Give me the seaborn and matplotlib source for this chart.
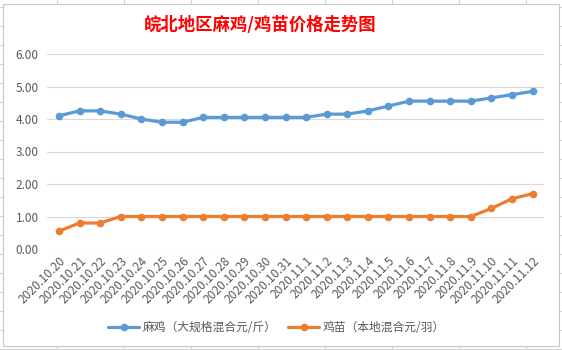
import numpy as np
import pandas as pd
import matplotlib
matplotlib.use("Agg")
import matplotlib.pyplot as plt
import seaborn as sns
from matplotlib.patches import Rectangle
from matplotlib.lines import Line2D

dates = ["2020.10.20", "2020.10.21", "2020.10.22", "2020.10.23", "2020.10.24", "2020.10.25",
         "2020.10.26", "2020.10.27", "2020.10.28", "2020.10.29", "2020.10.30", "2020.10.31",
         "2020.11.1", "2020.11.2", "2020.11.3", "2020.11.4", "2020.11.5", "2020.11.6",
         "2020.11.7", "2020.11.8", "2020.11.9", "2020.11.10", "2020.11.11", "2020.11.12"]
ma_ji = [4.10, 4.25, 4.25, 4.15, 4.00, 3.90, 3.90, 4.05, 4.05, 4.05, 4.05, 4.05,
         4.05, 4.15, 4.15, 4.25, 4.40, 4.55, 4.55, 4.55, 4.55, 4.65, 4.75, 4.85]
ji_miao = [0.55, 0.80, 0.80, 1.00, 1.00, 1.00, 1.00, 1.00, 1.00, 1.00, 1.00, 1.00,
           1.00, 1.00, 1.00, 1.00, 1.00, 1.00, 1.00, 1.00, 1.00, 1.25, 1.55, 1.70]
series_names = ["麻鸡（大规格混合元/斤）", "鸡苗（本地混合元/羽）"]
colors = ["#5B9BD5", "#ED7D31"]
title = "皖北地区麻鸡/鸡苗价格走势图"
yticks = [0, 1, 2, 3, 4, 5, 6]

df = pd.DataFrame({
    "date": dates * 2,
    "price": ma_ji + ji_miao,
    "series": [series_names[0]] * len(dates) + [series_names[1]] * len(dates),
})
df["pos"] = list(range(len(dates))) * 2

sns.set_theme(style="white")
plt.rcParams["font.family"] = ["Noto Sans CJK SC", "DejaVu Sans"]

fig = plt.figure(figsize=(5.62, 3.5), dpi=100)
fig.patch.set_facecolor("white")

# spreadsheet grid behind the chart
W, H = 562, 350
for x in np.arange(57, W, 67):
    fig.add_artist(Line2D([x / W, x / W], [0, 1], color="#D4D4D4", lw=0.8, zorder=0))
for y in np.arange(7, H, 19):
    fig.add_artist(Line2D([0, 1], [1 - y / H, 1 - y / H], color="#D4D4D4", lw=0.8, zorder=0))
fig.add_artist(Rectangle((3 / W, 1 - 346 / H), (559 - 3) / W, (346 - 4) / H,
                         transform=fig.transFigure, facecolor="white",
                         edgecolor="#C8C8C8", lw=0.8, zorder=1))

ax = fig.add_axes([47 / W, 1 - 249 / H, (544 - 47) / W, (249 - 54) / H])
ax.set_facecolor("none")
ax.set_zorder(2)

sns.lineplot(data=df, x="pos", y="price", hue="series", palette=colors,
             marker="o", markersize=5.5, markeredgewidth=0, linewidth=2.3,
             sort=False, legend=False, ax=ax)

ax.set_xlim(-0.58, len(dates) - 0.45)
ax.set_ylim(0, 6)
ax.set_yticks(yticks)
ax.set_yticklabels([f"{v:.2f}" for v in yticks], color="#595959", fontsize=8.5)
ax.set_xticks(range(len(dates)))
ax.set_xticklabels(dates, rotation=45, ha="right", rotation_mode="anchor",
                   color="#595959", fontsize=8.6)
ax.tick_params(axis="both", length=0)
ax.tick_params(axis="y", pad=6)
ax.tick_params(axis="x", pad=4)
ax.grid(axis="y", color="#D9D9D9", lw=0.8)
for s in ax.spines.values():
    s.set_visible(False)
ax.set_xlabel("")
ax.set_ylabel("")

fig.text(0.463, 0.928, title, color="#FF0000", fontsize=12.5, fontweight="semibold",
         ha="center", va="center", zorder=3)

handles = [Line2D([], [], color=c, lw=2.3, marker="o", markersize=5.5, markeredgewidth=0)
           for c in colors]
fig.legend(handles, series_names, loc="center", bbox_to_anchor=(0.492, 0.063), ncol=2,
           frameon=False, fontsize=8.5, handlelength=2.6, columnspacing=1.0,
           handletextpad=0.3, labelcolor="#595959")

fig.savefig("out.png", dpi=100, facecolor="white")
